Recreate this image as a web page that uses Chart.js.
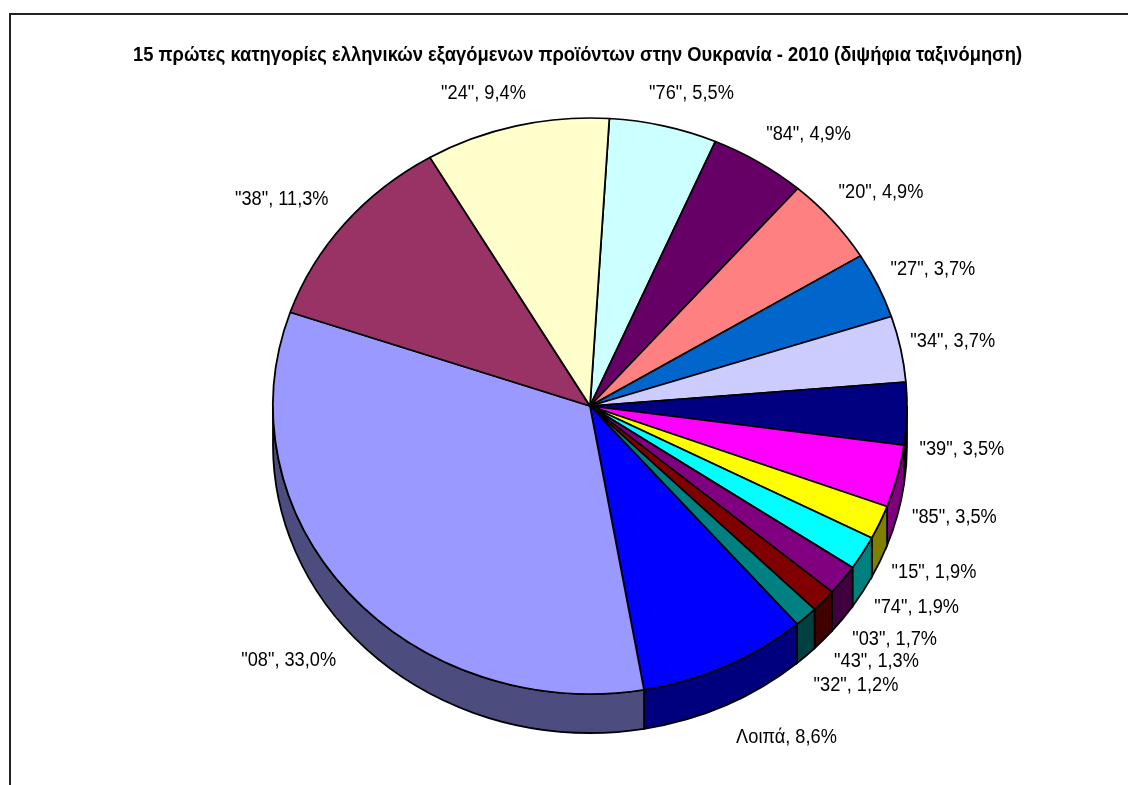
<!DOCTYPE html>
<html>
<head>
<meta charset="utf-8">
<title>Ελληνικές εξαγωγές στην Ουκρανία</title>
<script src="https://cdn.jsdelivr.net/npm/chart.js@4"></script>
<style>
  html, body { margin: 0; padding: 0; background: #fff; }
  canvas { display: block; }
</style>
</head>
<body>
<canvas id="pieChart" width="1128" height="785"></canvas>
<script>
const chartTitle = '15 πρώτες κατηγορίες ελληνικών εξαγόμενων προϊόντων στην Ουκρανία - 2010 (διψήφια ταξινόμηση)';
const categories = ['"76"', '"84"', '"20"', '"27"', '"34"', '"39"', '"85"', '"15"', '"74"', '"03"', '"43"', '"32"', 'Λοιπά', '"08"', '"38"', '"24"'];
const shares = [5.5, 4.9, 4.9, 3.7, 3.7, 3.5, 3.5, 1.9, 1.9, 1.7, 1.3, 1.2, 8.6, 33.0, 11.3, 9.4];
const colors = ['#CCFFFF', '#660066', '#FF8080', '#0066CC', '#CCCCFF', '#000080', '#FF00FF', '#FFFF00', '#00FFFF', '#800080', '#800000', '#008080', '#0000FF', '#9999FF', '#993366', '#FFFFCC'];

// how far each label sits from the rim of its slice
const labelNudge = [[28, -32], [50, -28], [49, -27], [55, -16], [52, -7], [55, 36], [57, 41], [54, 50], [54, 55], [52, 60], [53, 61], [50, 69], [61, 71], [-60, 68], [-63, -24], [-33, -32]];

const tilt = 288 / 317;   // the pie is seen from above, so it is squashed
const depth = 39;

function shade(hex) {
    const n = parseInt(hex.slice(1), 16);
    const half = v => Math.floor(v / 2);
    return `rgb(${half(n >> 16)}, ${half((n >> 8) & 255)}, ${half(n & 255)})`;
}

const framePlugin = {
    id: 'frame',
    beforeDraw(chart) {
        const ctx = chart.ctx;
        ctx.save();
        ctx.strokeStyle = '#222';
        ctx.lineWidth = 2;
        ctx.beginPath();
        ctx.moveTo(10, 790);
        ctx.lineTo(10, 14);
        ctx.lineTo(1130, 14);
        ctx.stroke();
        ctx.restore();
    }
};

const tiltPlugin = {
    id: 'tilt',
    beforeDatasetsDraw(chart) {
        const ctx = chart.ctx;
        const arcs = chart.getDatasetMeta(0).data;

        // side wall, only the front half of the rim shows
        ctx.save();
        ctx.lineWidth = 1.8;
        ctx.strokeStyle = '#000';
        arcs.forEach((arc, i) => {
            [0, 2 * Math.PI].forEach(turn => {
                const a0 = Math.max(arc.startAngle - turn, 0);
                const a1 = Math.min(arc.endAngle - turn, Math.PI);
                if (a1 <= a0) return;
                const rx = arc.outerRadius, ry = rx * tilt;
                ctx.beginPath();
                ctx.ellipse(arc.x, arc.y, rx, ry, 0, a0, a1);
                ctx.ellipse(arc.x, arc.y + depth, rx, ry, 0, a1, a0, true);
                ctx.closePath();
                ctx.fillStyle = shade(colors[i]);
                ctx.fill();
                ctx.stroke();
            });
        });
        ctx.restore();

        const { x, y } = arcs[0];
        ctx.save();
        ctx.translate(x, y);
        ctx.scale(1, tilt);
        ctx.translate(-x, -y);
    },
    afterDatasetsDraw(chart) {
        chart.ctx.restore();
    },
    afterDraw(chart) {
        const ctx = chart.ctx;
        ctx.save();
        ctx.fillStyle = '#000';
        ctx.textAlign = 'center';
        ctx.textBaseline = 'middle';

        // title sits left of the pie centre and is narrower than the plain font
        ctx.font = 'bold 20px "Liberation Sans"';
        ctx.fillText(chartTitle, 577.5, 55, 889);

        ctx.font = '20px "Liberation Sans"';
        chart.getDatasetMeta(0).data.forEach((arc, i) => {
            const mid = (arc.startAngle + arc.endAngle) / 2;
            const px = arc.x + arc.outerRadius * Math.cos(mid) + labelNudge[i][0];
            const py = arc.y + arc.outerRadius * tilt * Math.sin(mid) + labelNudge[i][1];
            const text = categories[i] + ', ' + shares[i].toFixed(1).replace('.', ',') + '%';
            ctx.fillText(text, px, py, ctx.measureText(text).width * 0.91);
        });
        ctx.restore();
    }
};

new Chart(document.getElementById('pieChart'), {
    type: 'pie',
    data: {
        labels: categories,
        datasets: [{
            data: shares,
            backgroundColor: colors,
            borderColor: '#000',
            borderWidth: 1.8,
            clip: false
        }]
    },
    options: {
        responsive: false,
        animation: false,
        radius: 317,
        rotation: 3.5,
        layout: { padding: { left: 52, top: 27 } },
        plugins: {
            legend: { display: false },
            tooltip: { enabled: false }
        }
    },
    plugins: [framePlugin, tiltPlugin]
});
</script>
</body>
</html>
